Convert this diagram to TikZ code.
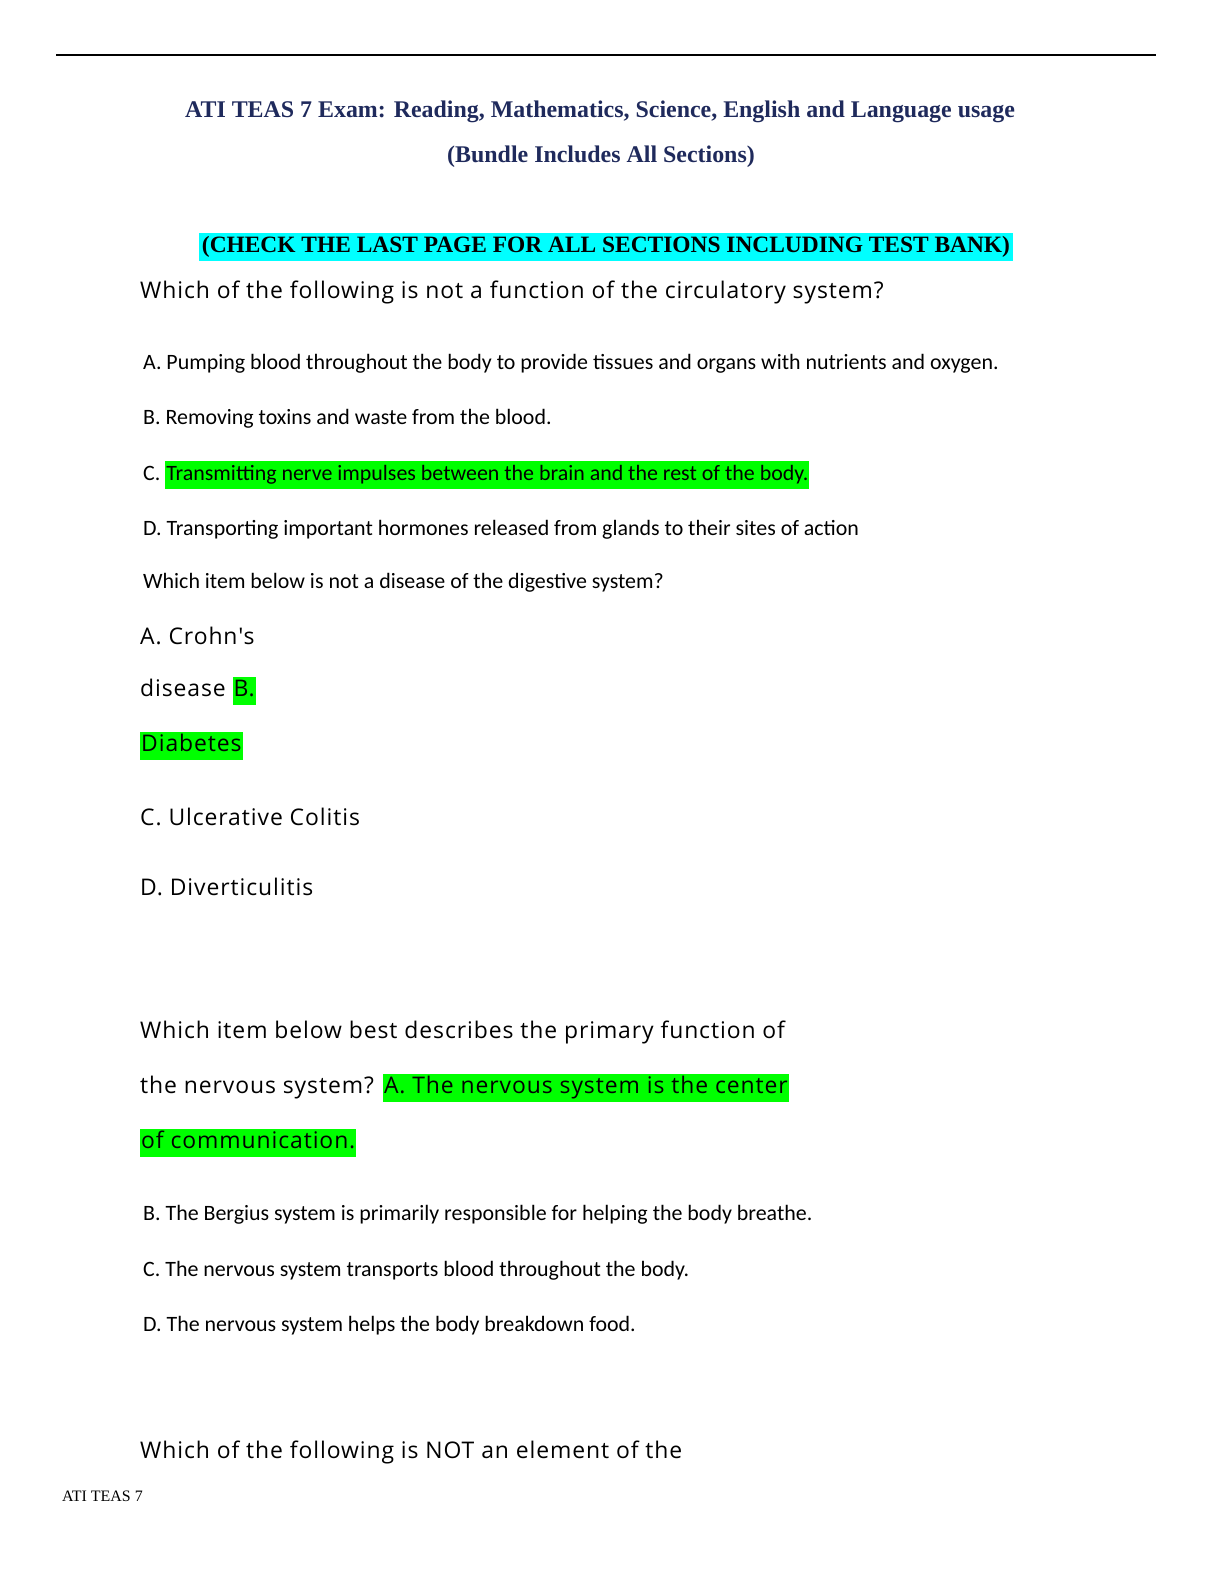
\documentclass[tikz,border=0pt]{standalone}
\usepackage{fontspec}
\setmainfont{Liberation Serif}
\newfontfamily\calib{Carlito}
\newfontfamily\bigf[LetterSpace=4]{Open Sans}
\definecolor{navy}{HTML}{1F2A5C}
\definecolor{hlgreen}{HTML}{00FF00}
\definecolor{hlcyan}{HTML}{00FFFF}
\setlength{\fboxsep}{1pt}
\newcommand\hlg[1]{\colorbox{hlgreen}{\strut #1}}
\begin{document}
\begin{tikzpicture}[x=1bp,y=-1bp,
  big/.style={anchor=west,inner sep=0pt,font=\bigf\fontsize{23}{27}\selectfont},
  small/.style={anchor=west,inner sep=0pt,font=\calib\fontsize{22}{26}\selectfont},
  ttl/.style={inner sep=0pt,text=navy,font=\bfseries\fontsize{24}{28}\selectfont}]
\useasboundingbox[fill=white] (0,0) rectangle (1224,1584);
\draw[line width=2bp] (56,55) coordinate (l1) -- (1156,55) coordinate (l2);
\node[ttl] (t1) at (600,112) {ATI TEAS 7 Exam: Reading, Mathematics, Science, English and Language usage};
\node[ttl] (t2) at (601,157) {(Bundle Includes All Sections)};
\node[fill=hlcyan,inner sep=3pt,font=\bfseries\fontsize{23.5}{27}\selectfont] (t3) at (606,247) {(CHECK THE LAST PAGE FOR ALL SECTIONS INCLUDING TEST BANK)};
\node[big] (q1) at (140,292) {Which of the following is not a function of the circulatory system?};
\node[small] (a1) at (143,364) {A. Pumping blood throughout the body to provide tissues and organs with nutrients and oxygen.};
\node[small] (b1) at (143,419) {B. Removing toxins and waste from the blood.};
\node[small] (c1) at (143,475) {C. \hlg{Transmitting nerve impulses between the brain and the rest of the body.}};
\node[small] (d1) at (143,530) {D. Transporting important hormones released from glands to their sites of action};
\node[small] (q2) at (143,583) {Which item below is not a disease of the digestive system?};
\node[big] (a2) at (140,636) {A. Crohn's};
\node[big] (a2b) at (140,691) {disease \hlg{B.}};
\node[big] (b2) at (140,746) {\hlg{Diabetes}};
\node[big] (c2) at (140,817) {C. Ulcerative Colitis};
\node[big] (d2) at (140,887) {D. Diverticulitis};
\node[big] (q3) at (140,1032) {Which item below best describes the primary function of};
\node[big] (q3b) at (140,1088) {the nervous system? \hlg{A. The nervous system is the center}};
\node[big] (q3c) at (140,1143) {\hlg{of communication.}};
\node[small] (b3) at (143,1215) {B. The Bergius system is primarily responsible for helping the body breathe.};
\node[small] (c3) at (143,1271) {C. The nervous system transports blood throughout the body.};
\node[small] (d3) at (143,1326) {D. The nervous system helps the body breakdown food.};
\node[big] (q4) at (140,1452) {Which of the following is NOT an element of the};
\node[anchor=west,inner sep=0pt,font=\fontsize{16}{18}\selectfont] (ft) at (62,1496) {ATI TEAS 7};
\end{tikzpicture}
\end{document}
